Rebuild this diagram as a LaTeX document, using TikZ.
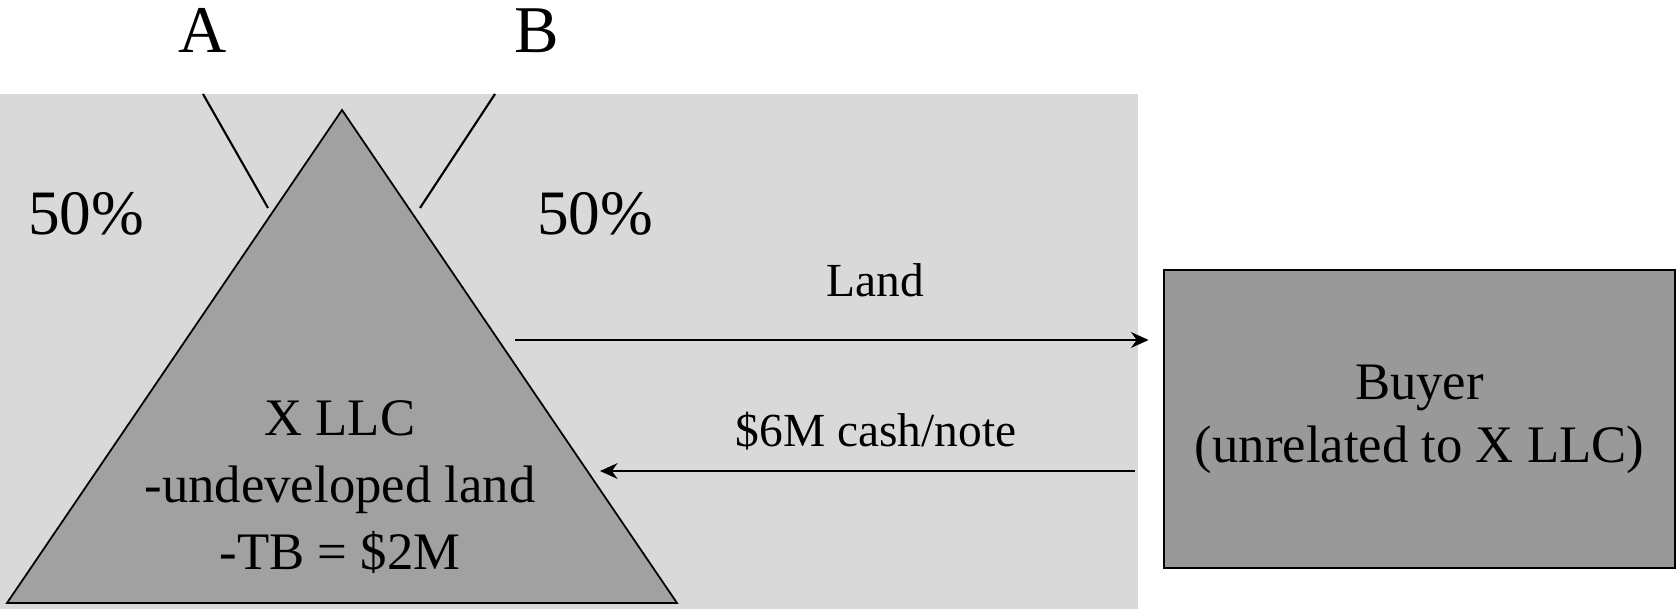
\documentclass[tikz,border=0pt]{standalone}
\usepackage{fontspec}
\setmainfont{Liberation Serif}
\usetikzlibrary{arrows.meta, positioning}
\definecolor{panelgray}{gray}{0.85}
\definecolor{llcgray}{gray}{0.63}
\definecolor{buyergray}{gray}{0.6}

\begin{document}
\begin{tikzpicture}[
  owner/.style={font=\fontsize{19}{23}\selectfont, anchor=base, inner sep=0pt},
  share/.style={font=\fontsize{18}{22}\selectfont, anchor=base, inner sep=0pt},
  flow/.style={font=\fontsize{13.5}{16}\selectfont, anchor=base, inner sep=0pt},
  flowline/.style={line width=0.6pt, -{Stealth[length=5pt, width=4.5pt]}}
]
  \useasboundingbox (0,0) rectangle (16.77,6.09);

  % Shaded panel
  \fill[panelgray] (0,0) rectangle (11.38,5.15);

  % Owners and their 50% legs
  \node[owner] (ownA) at (2.03,5.56) {A};
  \node[owner] (ownB) at (5.37,5.56) {B};
  \coordinate (legA) at (2.03,5.15);
  \coordinate (footA) at (2.68,4.01);
  \coordinate (legB) at (4.95,5.15);
  \coordinate (footB) at (4.20,4.01);
  \draw[line width=0.6pt] (legA) -- (footA);
  \draw[line width=0.6pt] (legB) -- (footB);
  \node[share] (shareA) at (0.86,3.74) {50\%};
  \node[share] (shareB) at (5.95,3.74) {50\%};

  % X LLC (triangle)
  \filldraw[fill=llcgray, draw=black, line width=0.5pt]
    (0.07,0.06) -- (3.42,4.99) -- (6.77,0.06) -- cycle;
  \node[font=\fontsize{15}{19}\selectfont, align=center, inner sep=0pt] (xllc)
    at (3.40,1.22) {X LLC\\-undeveloped land\\-TB = \$2M};

  % Buyer
  \node[draw, line width=0.8pt, fill=buyergray, minimum width=5.11cm, minimum height=2.98cm,
    inner sep=0pt, align=center, font=\fontsize{15}{18}\selectfont] (buyer)
    at (14.195,1.90) {Buyer\\(unrelated to X LLC)};

  % Land out, cash back
  \coordinate (landS) at (5.15,2.69);
  \draw[flowline, shorten >=1.4mm] (landS) -- (landS -| buyer.west);
  \node[flow] (landlbl) at (8.75,3.12) {Land};
  \coordinate (cashE) at (6.00,1.38);
  \draw[flowline, shorten <=2.8mm] (cashE -| buyer.west) -- (cashE);
  \node[flow] (cashlbl) at (8.76,1.62) {\$6M cash/note};

\end{tikzpicture}
\end{document}
